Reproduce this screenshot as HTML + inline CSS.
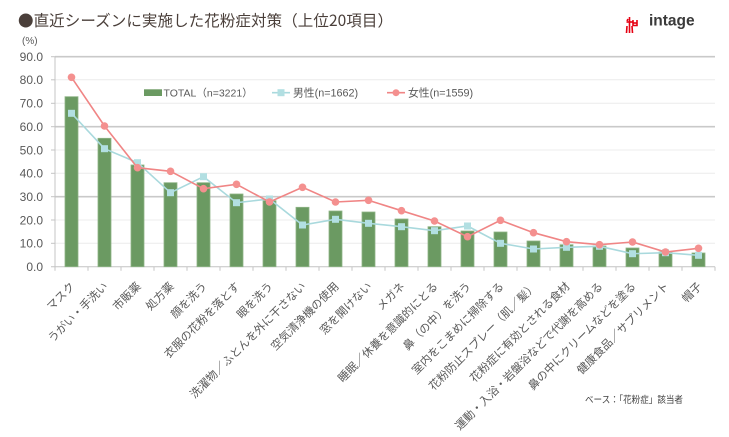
<!DOCTYPE html>
<html><head><meta charset="utf-8"><style>
html,body{margin:0;padding:0;background:#fff;}
svg{display:block;}
text{font-family:"Liberation Sans","Noto Sans CJK JP",sans-serif;}
</style></head><body>
<svg width="729" height="437" viewBox="0 0 729 437" xmlns="http://www.w3.org/2000/svg">
<rect width="729" height="437" fill="#fff"/>
<!-- title -->
<text x="18" y="26" font-size="15.5" fill="#4a3f3a" textLength="375" lengthAdjust="spacing" style="font-family:'Noto Sans CJK JP',sans-serif">●直近シーズンに実施した花粉症対策（上位20項目）</text>
<!-- logo -->
<g stroke="#e60012" stroke-width="1.6" fill="none">
<path d="M629.5 17 L629.5 33"/>
<path d="M626.5 22 L632.5 22"/>
<path d="M627 26 L626.5 33 M632 26 L632.5 33"/>
<path d="M628 19 L627 21"/>
<path d="M633 20 L633 25.5 L637 25.5 L637 20"/>
<path d="M633 23 L637 23"/>
</g>
<text x="649" y="25.5" font-size="15.5" font-weight="bold" fill="#3a3a3a">intage</text>
<!-- (%) -->
<text x="22" y="44" font-size="10" fill="#595959">(%)</text>
<!-- gridlines -->
<g stroke="#ececec" stroke-width="1">
<line x1="55" y1="79.8" x2="715" y2="79.8"/>
<line x1="55" y1="103.3" x2="715" y2="103.3"/>
<line x1="55" y1="150" x2="715" y2="150"/>
<line x1="55" y1="173.3" x2="715" y2="173.3"/>
<line x1="55" y1="220" x2="715" y2="220"/>
<line x1="55" y1="243.3" x2="715" y2="243.3"/>
</g>
<g stroke="#c9c9c9" stroke-width="1.6">
<line x1="55" y1="56.7" x2="715" y2="56.7"/>
<line x1="55" y1="126.7" x2="715" y2="126.7"/>
<line x1="55" y1="196.7" x2="715" y2="196.7"/>
</g>
<!-- axes -->
<g stroke="#c4c4c4" stroke-width="1">
<line x1="55" y1="56.7" x2="55" y2="266.7"/>
<line x1="51" y1="266.7" x2="715" y2="266.7"/>
<line x1="51" y1="56.7" x2="55" y2="56.7"/>
<line x1="51" y1="79.8" x2="55" y2="79.8"/>
<line x1="51" y1="103.3" x2="55" y2="103.3"/>
<line x1="51" y1="126.7" x2="55" y2="126.7"/>
<line x1="51" y1="150" x2="55" y2="150"/>
<line x1="51" y1="173.3" x2="55" y2="173.3"/>
<line x1="51" y1="196.7" x2="55" y2="196.7"/>
<line x1="51" y1="220" x2="55" y2="220"/>
<line x1="51" y1="243.3" x2="55" y2="243.3"/>
<path d="M55 266.7v4 M88 266.7v4 M121 266.7v4 M154 266.7v4 M187 266.7v4 M220 266.7v4 M253 266.7v4 M286 266.7v4 M319 266.7v4 M352 266.7v4 M385 266.7v4 M418 266.7v4 M451 266.7v4 M484 266.7v4 M517 266.7v4 M550 266.7v4 M583 266.7v4 M616 266.7v4 M649 266.7v4 M682 266.7v4 M715 266.7v4"/>
</g>
<!-- y labels -->
<g font-size="12" fill="#595959" text-anchor="end">
<text x="43" y="61">90.0</text>
<text x="43" y="84.2">80.0</text>
<text x="43" y="107.6">70.0</text>
<text x="43" y="131">60.0</text>
<text x="43" y="154.3">50.0</text>
<text x="43" y="177.6">40.0</text>
<text x="43" y="201">30.0</text>
<text x="43" y="224.3">20.0</text>
<text x="43" y="247.6">10.0</text>
<text x="43" y="271">0.0</text>
</g>
<!-- bars -->
<g fill="#6b9a62" stroke="#8fb587" stroke-width="0.8">
<rect x="65" y="96.7" width="13" height="170"/>
<rect x="98" y="138.3" width="13" height="128.4"/>
<rect x="131" y="165" width="13" height="101.7"/>
<rect x="164" y="182.7" width="13" height="84"/>
<rect x="197" y="182.7" width="13" height="84"/>
<rect x="230" y="194" width="13" height="72.7"/>
<rect x="263" y="200.7" width="13" height="66"/>
<rect x="296" y="207.3" width="13" height="59.4"/>
<rect x="329" y="211" width="13" height="55.7"/>
<rect x="362" y="212" width="13" height="54.7"/>
<rect x="395" y="219" width="13" height="47.7"/>
<rect x="428" y="226.7" width="13" height="40"/>
<rect x="461" y="231" width="13" height="35.7"/>
<rect x="494" y="232" width="13" height="34.7"/>
<rect x="527" y="241" width="13" height="25.7"/>
<rect x="560" y="244.7" width="13" height="22"/>
<rect x="593" y="246" width="13" height="20.7"/>
<rect x="626" y="248" width="13" height="18.7"/>
<rect x="659" y="252" width="13" height="14.7"/>
<rect x="692" y="253" width="13" height="13.7"/>
</g>
<!-- male -->
<polyline fill="none" stroke="#a9d9dd" stroke-width="1.6" points="71.5,113.3 104.5,148.7 137.5,162.7 170.5,192.7 203.5,176.7 236.5,202.7 269.5,199 302.5,225 335.5,219.3 368.5,223.3 401.5,226.7 434.5,230.7 467.5,226 500.5,243.3 533.5,249 566.5,247.3 599.5,246.3 632.5,253.7 665.5,252.7 698.5,255.3"/>
<g fill="#b2dfe2">
<rect x="68" y="109.8" width="7" height="7"/>
<rect x="101" y="145.2" width="7" height="7"/>
<rect x="134" y="159.2" width="7" height="7"/>
<rect x="167" y="189.2" width="7" height="7"/>
<rect x="200" y="173.2" width="7" height="7"/>
<rect x="233" y="199.2" width="7" height="7"/>
<rect x="266" y="195.5" width="7" height="7"/>
<rect x="299" y="221.5" width="7" height="7"/>
<rect x="332" y="215.8" width="7" height="7"/>
<rect x="365" y="219.8" width="7" height="7"/>
<rect x="398" y="223.2" width="7" height="7"/>
<rect x="431" y="227.2" width="7" height="7"/>
<rect x="464" y="222.5" width="7" height="7"/>
<rect x="497" y="239.8" width="7" height="7"/>
<rect x="530" y="245.5" width="7" height="7"/>
<rect x="563" y="243.8" width="7" height="7"/>
<rect x="596" y="242.8" width="7" height="7"/>
<rect x="629" y="250.2" width="7" height="7"/>
<rect x="662" y="249.2" width="7" height="7"/>
<rect x="695" y="251.8" width="7" height="7"/>
</g>
<!-- female -->
<polyline fill="none" stroke="#f08585" stroke-width="1.6" points="71.5,77.3 104.5,126 137.5,167.7 170.5,171.3 203.5,188.7 236.5,184.3 269.5,202 302.5,187.3 335.5,202 368.5,200.3 401.5,210.7 434.5,221 467.5,236.7 500.5,220.3 533.5,232.7 566.5,241.7 599.5,244.7 632.5,242 665.5,252 698.5,248.3"/>
<g fill="#f4908f">
<circle cx="71.5" cy="77.3" r="3.8"/>
<circle cx="104.5" cy="126" r="3.8"/>
<circle cx="137.5" cy="167.7" r="3.8"/>
<circle cx="170.5" cy="171.3" r="3.8"/>
<circle cx="203.5" cy="188.7" r="3.8"/>
<circle cx="236.5" cy="184.3" r="3.8"/>
<circle cx="269.5" cy="202" r="3.8"/>
<circle cx="302.5" cy="187.3" r="3.8"/>
<circle cx="335.5" cy="202" r="3.8"/>
<circle cx="368.5" cy="200.3" r="3.8"/>
<circle cx="401.5" cy="210.7" r="3.8"/>
<circle cx="434.5" cy="221" r="3.8"/>
<circle cx="467.5" cy="236.7" r="3.8"/>
<circle cx="500.5" cy="220.3" r="3.8"/>
<circle cx="533.5" cy="232.7" r="3.8"/>
<circle cx="566.5" cy="241.7" r="3.8"/>
<circle cx="599.5" cy="244.7" r="3.8"/>
<circle cx="632.5" cy="242" r="3.8"/>
<circle cx="665.5" cy="252" r="3.8"/>
<circle cx="698.5" cy="248.3" r="3.8"/>
</g>
<!-- legend -->
<rect x="144" y="89.3" width="18" height="6.7" fill="#6b9a62"/>
<text x="163.5" y="96.5" font-size="10.5" fill="#595959">TOTAL（n=3221）</text>
<line x1="272" y1="92.7" x2="290" y2="92.7" stroke="#a9d9dd" stroke-width="1.6"/>
<rect x="277.5" y="89.2" width="7" height="7" fill="#b2dfe2"/>
<text x="293" y="96.5" font-size="10.8" fill="#595959">男性(n=1662)</text>
<line x1="387" y1="92.7" x2="405" y2="92.7" stroke="#f08585" stroke-width="1.6"/>
<circle cx="396" cy="92.7" r="3.5" fill="#f4908f"/>
<text x="408" y="96.5" font-size="10.8" fill="#595959">女性(n=1559)</text>
<!-- x labels -->
<g font-size="11.3" fill="#595959" text-anchor="end" style="font-family:'Noto Sans CJK JP',sans-serif">
<text x="75.5" y="287" transform="rotate(-45 75.5 287)">マスク</text>
<text x="108.5" y="287" transform="rotate(-45 108.5 287)">うがい・手洗い</text>
<text x="141.5" y="287" transform="rotate(-45 141.5 287)">市販薬</text>
<text x="174.5" y="287" transform="rotate(-45 174.5 287)">処方薬</text>
<text x="207.5" y="287" transform="rotate(-45 207.5 287)">顔を洗う</text>
<text x="240.5" y="287" transform="rotate(-45 240.5 287)">衣服の花粉を落とす</text>
<text x="273.5" y="287" transform="rotate(-45 273.5 287)">眼を洗う</text>
<text x="306.5" y="287" transform="rotate(-45 306.5 287)">洗濯物／ふとんを外に干さない</text>
<text x="339.5" y="287" transform="rotate(-45 339.5 287)">空気清浄機の使用</text>
<text x="372.5" y="287" transform="rotate(-45 372.5 287)">窓を開けない</text>
<text x="405.5" y="287" transform="rotate(-45 405.5 287)">メガネ</text>
<text x="438.5" y="287" transform="rotate(-45 438.5 287)">睡眠／休養を意識的にとる</text>
<text x="471.5" y="287" transform="rotate(-45 471.5 287)">鼻（の中）を洗う</text>
<text x="504.5" y="287" transform="rotate(-45 504.5 287)">室内をこまめに掃除する</text>
<text x="537.5" y="287" transform="rotate(-45 537.5 287)">花粉防止スプレー（肌／髪）</text>
<text x="570.5" y="287" transform="rotate(-45 570.5 287)">花粉症に有効とされる食材</text>
<text x="603.5" y="287" transform="rotate(-45 603.5 287)">運動・入浴・岩盤浴などで代謝を高める</text>
<text x="636.5" y="287" transform="rotate(-45 636.5 287)">鼻の中にクリームなどを塗る</text>
<text x="669.5" y="287" transform="rotate(-45 669.5 287)">健康食品／サプリメント</text>
<text x="702.5" y="287" transform="rotate(-45 702.5 287)">帽子</text>
</g>
<!-- footnote -->
<text x="585" y="403" font-size="9.5" fill="#404040" textLength="98" lengthAdjust="spacingAndGlyphs" style="font-family:'Noto Sans CJK JP',sans-serif">ベース：「花粉症」該当者</text>
</svg>
</body></html>
